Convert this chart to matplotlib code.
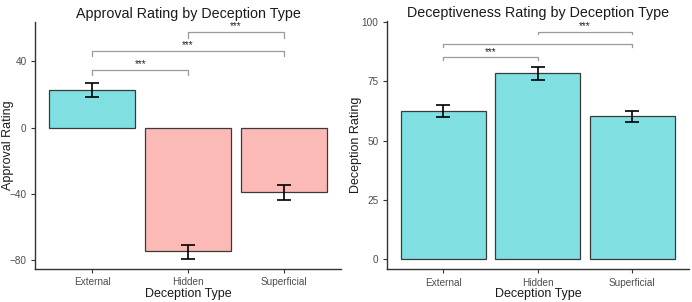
import numpy as np
import matplotlib
matplotlib.use("Agg")
import matplotlib.pyplot as plt

plt.rcParams['font.family'] = ['Liberation Sans', 'DejaVu Sans']

# data
categories = ["External", "Hidden", "Superficial"]

approval_mean = [22.5, -74.3, -38.9]
approval_lo = [18.3, -79.3, -43.5]
approval_hi = [26.7, -70.7, -34.5]

decept_mean = [62.5, 78.4, 60.4]
decept_lo = [59.9, 75.7, 57.9]
decept_hi = [64.8, 80.8, 62.6]

# significance brackets: (from, to, y, label)
approval_sig = [(0, 1, 35.0, "***"), (0, 2, 46.4, "***"), (1, 2, 57.5, "***")]
decept_sig = [(0, 1, 85.2, "***"), (0, 2, 90.6, ""), (1, 2, 95.8, "***")]

CYAN = "#80DFE1"
PINK = "#FBBAB6"
EDGE = "#3a3a3a"
GREY = "#4D4D4D"


def style_axes(ax):
    for s in ["top", "right"]:
        ax.spines[s].set_visible(False)
    for s in ["left", "bottom"]:
        ax.spines[s].set_color("#333333")
        ax.spines[s].set_linewidth(1.0)
    ax.tick_params(colors="#333333", labelcolor=GREY, labelsize=7.2, length=3, width=0.8, pad=3)
    ax.set_xlim(0.4, 3.6)


def draw_panel(ax, means, lo, hi, colors, sig, tick_h, title, ylabel, ylab_x):
    x = np.arange(1, len(categories) + 1)
    ax.bar(x, means, width=0.9, color=colors, edgecolor=EDGE, linewidth=0.9, zorder=2)
    m = np.array(means)
    err = [m - np.array(lo), np.array(hi) - m]
    ax.errorbar(x, means, yerr=err, fmt="none", ecolor="black",
                elinewidth=1.2, capsize=5, capthick=1.2, zorder=3)
    for a, b, y, lab in sig:
        xa, xb = x[a], x[b]
        ax.plot([xa, xa, xb, xb], [y - tick_h, y, y, y - tick_h],
                color="#9a9a9a", lw=0.9, zorder=1)
        if lab:
            ax.text((xa + xb) / 2, y + tick_h * 0.15, lab, ha="center", va="bottom",
                    fontsize=7, color="#222222")
    ax.set_xticks(x)
    ax.set_xticklabels(categories)
    ax.set_title(title, fontsize=10.3, color="#1a1a1a", pad=3)
    ax.set_xlabel("Deception Type", fontsize=9, color="#1a1a1a", va="center")
    ax.xaxis.set_label_coords(0.5, -0.101)
    ax.set_ylabel(ylabel, fontsize=9, color="#1a1a1a", va="center")
    ax.yaxis.set_label_coords(ylab_x, 0.5)
    style_axes(ax)


fig = plt.figure(figsize=(6.92, 3.02), dpi=100)
ax1 = fig.add_axes([0.0506, 0.1093, 0.4422, 0.8177])
ax2 = fig.add_axes([0.5588, 0.1083, 0.4369, 0.8232])

draw_panel(ax1, approval_mean, approval_lo, approval_hi, [CYAN, PINK, PINK],
           approval_sig, 3.3, "Approval Rating by Deception Type", "Approval Rating", -0.088)
ax1.set_ylim(-85.2, 63.7)
ax1.set_yticks([-80, -40, 0, 40])

draw_panel(ax2, decept_mean, decept_lo, decept_hi, [CYAN, CYAN, CYAN],
           decept_sig, 1.1, "Deceptiveness Rating by Deception Type", "Deception Rating", -0.102)
ax2.set_ylim(-4.2, 100.5)
ax2.set_yticks([0, 25, 50, 75, 100])

fig.savefig("out.png", dpi=100)
